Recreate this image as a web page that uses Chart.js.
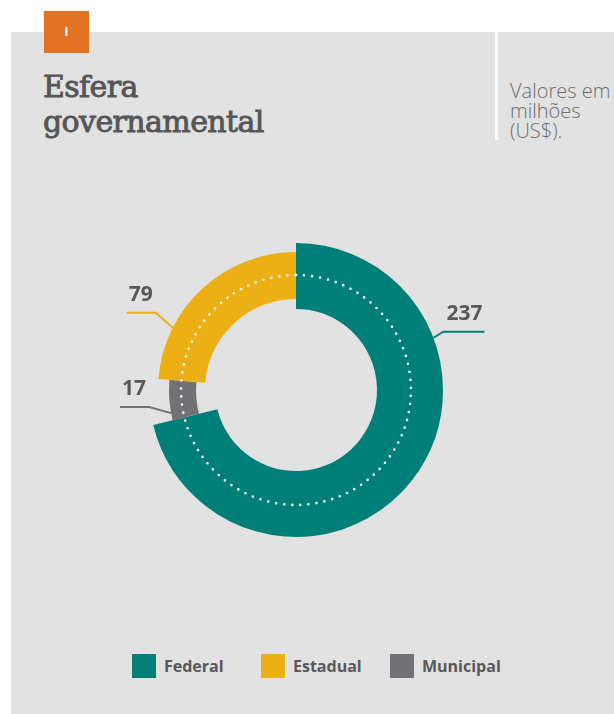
<!DOCTYPE html>
<html lang="pt">
<head>
    <meta charset="UTF-8">
    <title>Esfera governamental</title>
    <script src="https://cdn.jsdelivr.net/npm/chart.js"></script>
    <style>
        html, body { margin: 0; padding: 0; background: #fff; }
        body { width: 614px; height: 714px; position: relative; overflow: hidden; font-family: "Open Sans", sans-serif; }
        .panel { position: absolute; left: 11px; top: 32px; right: 0; bottom: 0; background: #e2e2e2; }
        .tag { position: absolute; left: 44px; top: 11px; width: 45px; height: 42px; background: #e37222;
               color: #fff; font-size: 12px; font-weight: 700; text-align: center; line-height: 42px; }
        .title { position: absolute; left: 43px; top: 69px; margin: 0; font-family: "DejaVu Serif", serif; font-weight: 400;
                 font-size: 30px; line-height: 35px; color: #555557; letter-spacing: -0.6px; -webkit-text-stroke: 0.9px #555557; }
        .divider { position: absolute; left: 495px; top: 32px; width: 3px; height: 108px; background: #fff; }
        .unit { position: absolute; left: 510px; top: 81px; font-size: 20px; line-height: 20px; font-weight: 300; color: #6b6b6d; white-space: nowrap; }
        #chartBox { position: absolute; left: 10px; top: 160px; width: 604px; height: 440px; }
        .legend { position: absolute; left: 132px; top: 654px; display: flex; }
        .legend .item { width: 129px; display: flex; align-items: center; height: 24px; }
        .legend .box { width: 24px; height: 24px; margin-right: 8px; }
        .legend .txt { font-size: 16px; font-weight: 700; color: #58585a; }
    </style>
</head>
<body>
    <div class="panel"></div>
    <div class="tag">I</div>
    <h1 class="title">Esfera<br>governamental</h1>
    <div class="divider"></div>
    <div class="unit">Valores em<br>milhões<br>(US$).</div>
    <div id="chartBox"><canvas id="myChart"></canvas></div>
    <div class="legend" id="legend"></div>

    <script>
        // dados (milhões US$), na ordem da legenda
        const esferas = ['Federal', 'Estadual', 'Municipal'];
        const valores = [237, 79, 17];
        const cores = ['#007f79', '#ecb014', '#717176'];

        // ordem dos segmentos no anel (sentido horário a partir do topo)
        const ordemAnel = [0, 2, 1];

        // espessura de cada segmento (fração do raio externo)
        const raioInterno = [0.551, 0.619, 0.68];
        const raioExterno = [1.0, 0.939, 0.864];
        const raioPontilhado = 0.782;

        // rótulos: posição ao longo do arco, cotovelo e trecho horizontal
        const rotuloFracao = [0.27, 0.26, 0.18];
        const rotuloCotovelo = [[10, -6], [-17, -15], [-22, -6]];
        const rotuloHorizontal = [41, 29, 29];

        const anelPlugin = {
            id: 'aneis',
            afterDatasetsUpdate(chart) {
                const meta = chart.getDatasetMeta(0);
                const R = meta.controller.outerRadius;
                meta.data.forEach((arc, j) => {
                    const i = ordemAnel[j];
                    arc.innerRadius = R * raioInterno[i];
                    arc.outerRadius = R * raioExterno[i];
                });
            },
            afterDatasetsDraw(chart) {
                const ctx = chart.ctx;
                const meta = chart.getDatasetMeta(0);
                const R = meta.controller.outerRadius;
                const cx = meta.data[0].x, cy = meta.data[0].y;

                // círculo pontilhado
                ctx.save();
                ctx.strokeStyle = '#fff';
                ctx.lineWidth = 2.6;
                ctx.lineCap = 'round';
                ctx.setLineDash([0, 8.1]);
                ctx.beginPath();
                ctx.arc(cx, cy, R * raioPontilhado, -Math.PI / 2, Math.PI * 1.5);
                ctx.stroke();
                ctx.restore();

                // rótulos com linhas de chamada
                meta.data.forEach((arc, j) => {
                    const i = ordemAnel[j];
                    const a = arc.startAngle + rotuloFracao[i] * (arc.endAngle - arc.startAngle);
                    const x0 = cx + Math.cos(a) * arc.outerRadius;
                    const y0 = cy + Math.sin(a) * arc.outerRadius;
                    const x1 = x0 + rotuloCotovelo[i][0];
                    const y1 = y0 + rotuloCotovelo[i][1];
                    const dir = rotuloCotovelo[i][0] > 0 ? 1 : -1;
                    const x2 = x1 + dir * rotuloHorizontal[i];
                    ctx.save();
                    ctx.strokeStyle = cores[i];
                    ctx.lineWidth = 2;
                    ctx.beginPath();
                    ctx.moveTo(x0, y0);
                    ctx.lineTo(x1, y1);
                    ctx.lineTo(x2, y1);
                    ctx.stroke();
                    ctx.fillStyle = '#58585a';
                    ctx.font = 'bold 21px "Open Sans"';
                    ctx.textBaseline = 'alphabetic';
                    ctx.textAlign = dir > 0 ? 'right' : 'left';
                    ctx.fillText(String(valores[i]), x2 - dir * 2, y1 - 12);
                    ctx.restore();
                });
            }
        };

        const ctx = document.getElementById('myChart').getContext('2d');
        new Chart(ctx, {
            type: 'doughnut',
            data: {
                labels: ordemAnel.map(i => esferas[i]),
                datasets: [{
                    data: ordemAnel.map(i => valores[i]),
                    backgroundColor: ordemAnel.map(i => cores[i]),
                    borderWidth: 0
                }]
            },
            options: {
                responsive: true,
                maintainAspectRatio: false,
                animation: false,
                layout: { padding: { left: 139, right: 171, top: 83, bottom: 63 } },
                plugins: {
                    legend: { display: false },
                    tooltip: { enabled: false }
                }
            },
            plugins: [anelPlugin]
        });

        // legenda
        const legenda = document.getElementById('legend');
        esferas.forEach((nome, i) => {
            const item = document.createElement('div');
            item.className = 'item';
            item.innerHTML = `<span class="box" style="background:${cores[i]}"></span><span class="txt">${nome}</span>`;
            legenda.appendChild(item);
        });
    </script>
</body>
</html>
